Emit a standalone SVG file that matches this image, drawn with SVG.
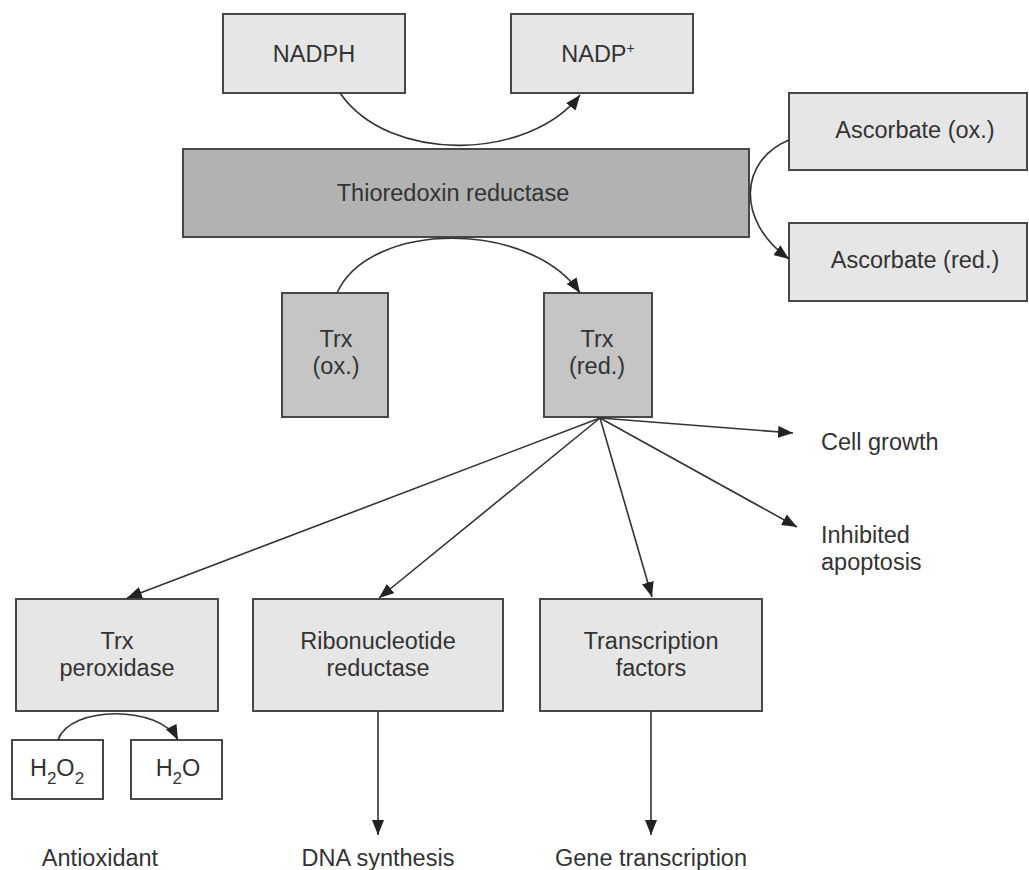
<svg xmlns="http://www.w3.org/2000/svg" width="1029" height="870" viewBox="0 0 1029 870">
<defs>
<style>
.box{stroke:#484848;stroke-width:2}
.light{fill:#e6e6e6}
.mid{fill:#c5c5c5}
.dark{fill:#b2b2b2}
.white{fill:#ffffff}
.t{font-family:"Liberation Sans",Arial,sans-serif;font-size:23.5px;fill:#333;text-anchor:middle}
.ts{font-family:"Liberation Sans",Arial,sans-serif;font-size:23.5px;fill:#333}
.c{fill:none;stroke:#333;stroke-width:1.6;marker-end:url(#ah)}
</style>
<marker id="ah" markerUnits="userSpaceOnUse" markerWidth="16" markerHeight="12" refX="15" refY="6" orient="auto">
<path d="M0,0 L15,6 L0,12 z" fill="#222"/>
</marker>
</defs>
<rect width="1029" height="870" fill="#fff"/>

<g id="nadph"><rect class="box light" x="223" y="14" width="182" height="79"/><text class="t" x="314" y="62">NADPH</text></g>
<g id="nadp"><rect class="box light" x="511" y="14" width="182" height="79"/><text class="t" x="598" y="62">NADP<tspan font-size="14" dy="-9">+</tspan></text></g>
<g id="trxr"><rect class="box dark" x="183" y="149" width="566" height="88"/><text class="t" x="453" y="201">Thioredoxin reductase</text></g>
<g id="asc-ox"><rect class="box light" x="789" y="93" width="238" height="77"/><text class="t" x="915" y="138">Ascorbate (ox.)</text></g>
<g id="asc-red"><rect class="box light" x="789" y="223" width="238" height="78"/><text class="t" x="915" y="268">Ascorbate (red.)</text></g>
<g id="trx-ox"><rect class="box mid" x="282" y="293" width="106" height="124"/><text class="t" x="336" y="347">Trx<tspan x="336" dy="27">(ox.)</tspan></text></g>
<g id="trx-red"><rect class="box mid" x="544" y="293" width="108" height="124"/><text class="t" x="597" y="347">Trx<tspan x="597" dy="27">(red.)</tspan></text></g>
<g id="cell-growth"><text class="ts" x="821" y="450">Cell growth</text></g>
<g id="apoptosis"><text class="ts" x="821" y="543">Inhibited<tspan x="821" dy="27">apoptosis</tspan></text></g>
<g id="trx-perox"><rect class="box light" x="16" y="599" width="202" height="112"/><text class="t" x="117" y="649">Trx<tspan x="117" dy="27">peroxidase</tspan></text></g>
<g id="ribo"><rect class="box light" x="253" y="599" width="250" height="112"/><text class="t" x="378" y="649">Ribonucleotide<tspan x="378" dy="27">reductase</tspan></text></g>
<g id="tf"><rect class="box light" x="540" y="599" width="222" height="112"/><text class="t" x="651" y="649">Transcription<tspan x="651" dy="27">factors</tspan></text></g>
<g id="h2o2"><rect class="box white" x="12" y="740" width="91" height="59"/><text class="t" x="57" y="776">H<tspan font-size="17" dy="8">2</tspan><tspan dy="-8">O</tspan><tspan font-size="17" dy="8">2</tspan></text></g>
<g id="h2o"><rect class="box white" x="131" y="740" width="91" height="59"/><text class="t" x="178" y="776">H<tspan font-size="17" dy="8">2</tspan><tspan dy="-8">O</tspan></text></g>
<g id="antioxidant"><text class="t" x="100" y="866">Antioxidant</text></g>
<g id="dna"><text class="t" x="378" y="866">DNA synthesis</text></g>
<g id="gene"><text class="t" x="651" y="866">Gene transcription</text></g>

<g id="connectors">
<path class="c" d="M340,93 C390,165 530,160 580,95"/>
<path class="c" d="M337,293 C370,220 530,220 580,293"/>
<path class="c" d="M789,140 C740,160 735,220 789,259"/>
<path class="c" d="M58,740 C70,705 160,705 178,740"/>
<path class="c" d="M600,418 L127,598"/>
<path class="c" d="M600,418 L379,598"/>
<path class="c" d="M600,418 L652,597"/>
<path class="c" d="M600,418 L797,527"/>
<path class="c" d="M600,418 L793,433"/>
<path class="c" d="M378,711 L378,835"/>
<path class="c" d="M651,711 L651,835"/>
</g>
</svg>
